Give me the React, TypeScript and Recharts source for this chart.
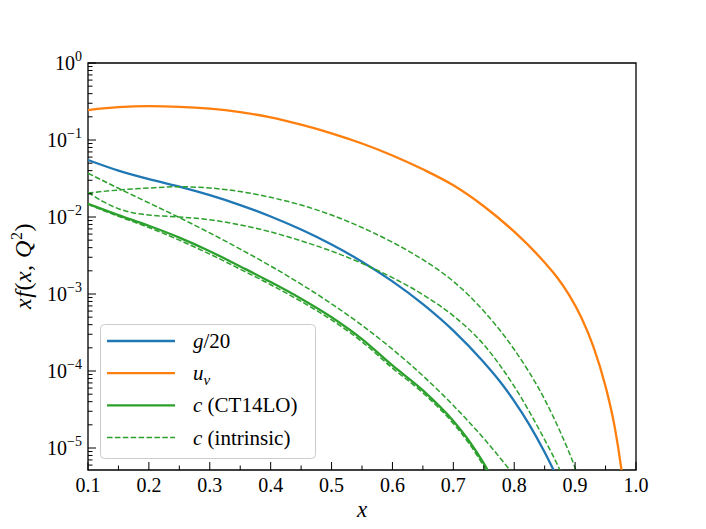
import React from 'react'
import { LineChart, Line, XAxis, YAxis, ReferenceArea } from 'recharts'

// gluon / 20
const gluonOver20 = [
  { x: 0.1, y: 0.055 }, { x: 0.15, y: 0.040 }, { x: 0.2, y: 0.031 }, { x: 0.25, y: 0.0248 },
  { x: 0.3, y: 0.0192 }, { x: 0.35, y: 0.0143 }, { x: 0.4, y: 0.01016 }, { x: 0.45, y: 0.00687 },
  { x: 0.5, y: 0.00439 }, { x: 0.55, y: 0.00263 }, { x: 0.6, y: 0.00146 }, { x: 0.65, y: 0.00074 },
  { x: 0.7, y: 0.000335 }, { x: 0.75, y: 0.00013 }, { x: 0.775, y: 0.000076 }, { x: 0.8, y: 0.0000407 },
  { x: 0.825, y: 0.0000200 }, { x: 0.85, y: 0.0000088 }, { x: 0.875, y: 0.0000035 },
]

// valence up
const upValence = [
  { x: 0.1, y: 0.245 }, { x: 0.15, y: 0.267 }, { x: 0.2, y: 0.275 }, { x: 0.25, y: 0.270 },
  { x: 0.3, y: 0.255 }, { x: 0.35, y: 0.230 }, { x: 0.4, y: 0.197 }, { x: 0.45, y: 0.158 },
  { x: 0.5, y: 0.122 }, { x: 0.55, y: 0.090 }, { x: 0.6, y: 0.063 }, { x: 0.65, y: 0.0416 },
  { x: 0.7, y: 0.0258 }, { x: 0.75, y: 0.0138 }, { x: 0.8, y: 0.00644 }, { x: 0.85, y: 0.00256 },
  { x: 0.87, y: 0.00166 }, { x: 0.89, y: 0.000975 }, { x: 0.91, y: 0.00050 }, { x: 0.93, y: 0.000208 },
  { x: 0.95, y: 0.000063 }, { x: 0.965, y: 0.0000188 }, { x: 0.976, y: 0.0000053 }, { x: 0.982, y: 0.0000022 },
]

// charm, CT14LO
const charmCT14 = [
  { x: 0.1, y: 0.0148 }, { x: 0.15, y: 0.0106 }, { x: 0.2, y: 0.0077 }, { x: 0.25, y: 0.0054 },
  { x: 0.3, y: 0.0036 }, { x: 0.35, y: 0.00228 }, { x: 0.4, y: 0.00143 }, { x: 0.45, y: 0.00087 },
  { x: 0.5, y: 0.00050 }, { x: 0.55, y: 0.00026 }, { x: 0.6, y: 0.000118 }, { x: 0.65, y: 0.000056 },
  { x: 0.7, y: 0.0000224 }, { x: 0.725, y: 0.0000126 }, { x: 0.75, y: 0.0000063 }, { x: 0.775, y: 0.0000028 },
]

// intrinsic charm models
const intrinsicSea = [
  { x: 0.1, y: 0.0146 }, { x: 0.15, y: 0.0102 }, { x: 0.2, y: 0.0073 }, { x: 0.25, y: 0.0050 },
  { x: 0.3, y: 0.0033 }, { x: 0.35, y: 0.0021 }, { x: 0.4, y: 0.00132 }, { x: 0.45, y: 0.00080 },
  { x: 0.5, y: 0.00046 }, { x: 0.55, y: 0.00024 }, { x: 0.6, y: 0.000109 }, { x: 0.65, y: 0.000052 },
  { x: 0.7, y: 0.0000208 }, { x: 0.725, y: 0.0000117 }, { x: 0.75, y: 0.0000058 }, { x: 0.775, y: 0.0000026 },
]
const intrinsicSteep = [
  { x: 0.1, y: 0.037 }, { x: 0.15, y: 0.0236 }, { x: 0.2, y: 0.01524 }, { x: 0.25, y: 0.00984 },
  { x: 0.3, y: 0.00621 }, { x: 0.35, y: 0.00383 }, { x: 0.4, y: 0.00231 }, { x: 0.45, y: 0.00134 },
  { x: 0.5, y: 0.000746 }, { x: 0.55, y: 0.000392 }, { x: 0.6, y: 0.000192 }, { x: 0.65, y: 0.0000867 },
  { x: 0.7, y: 0.0000357 }, { x: 0.75, y: 0.0000133 }, { x: 0.8, y: 0.0000044 },
]
const intrinsicPeaked = [
  { x: 0.1, y: 0.0205 }, { x: 0.15, y: 0.0224 }, { x: 0.2, y: 0.0238 }, { x: 0.25, y: 0.0247 },
  { x: 0.3, y: 0.0238 }, { x: 0.35, y: 0.0214 }, { x: 0.4, y: 0.0180 }, { x: 0.45, y: 0.0143 },
  { x: 0.5, y: 0.0106 }, { x: 0.55, y: 0.0073 }, { x: 0.6, y: 0.0047 }, { x: 0.65, y: 0.00279 },
  { x: 0.7, y: 0.00146 }, { x: 0.75, y: 0.00060 }, { x: 0.8, y: 0.00019 }, { x: 0.85, y: 0.0000427 },
  { x: 0.875, y: 0.0000166 }, { x: 0.9, y: 0.0000055 }, { x: 0.92, y: 0.00000178 },
]
const intrinsicFlat = [
  { x: 0.1, y: 0.0209 }, { x: 0.125, y: 0.0158 }, { x: 0.15, y: 0.0128 }, { x: 0.175, y: 0.0113 },
  { x: 0.2, y: 0.0106 }, { x: 0.25, y: 0.0100 }, { x: 0.3, y: 0.0092 }, { x: 0.35, y: 0.0079 },
  { x: 0.4, y: 0.0064 }, { x: 0.45, y: 0.0049 }, { x: 0.5, y: 0.0036 }, { x: 0.55, y: 0.0025 },
  { x: 0.6, y: 0.00163 }, { x: 0.65, y: 0.00098 }, { x: 0.7, y: 0.00052 }, { x: 0.75, y: 0.00022 },
  { x: 0.8, y: 0.000063 }, { x: 0.85, y: 0.0000128 }, { x: 0.87, y: 0.0000063 }, { x: 0.89, y: 0.0000028 },
]

// ticks
const xMajorTicks = [0.1, 0.2, 0.3, 0.4, 0.5, 0.6, 0.7, 0.8, 0.9, 1.0]
const xMinorTicks = [0.15, 0.25, 0.35, 0.45, 0.55, 0.65, 0.75, 0.85, 0.95]
const yMajorTicks = [1e-5, 1e-4, 1e-3, 1e-2, 1e-1, 1]
const yMajorExponents = ['−5', '−4', '−3', '−2', '−1', '0']
const yMinorMultipliers = [2, 3, 4, 5, 6, 7, 8, 9]

const Y_MIN = 5.18e-6
const Y_MAX = 1

const BLUE = '#1f77b4'
const ORANGE = '#ff7f0e'
const GREEN = '#2ca02c'
const FONT = '"Liberation Serif", "DejaVu Serif", serif'
const DASH = '5.5 2.4'

const yMinorTicks: number[] = []
for (let e = -6; e <= -1; e++) {
  yMinorMultipliers.forEach(m => {
    const v = m * Math.pow(10, e)
    if (v > Y_MIN && v < Y_MAX) yMinorTicks.push(v)
  })
}

const near = (a: number, b: number) => Math.abs(a / b - 1) < 1e-6

const XTick = (props: any) => {
  const { x, y, payload } = props
  const idx = xMajorTicks.findIndex(t => near(payload.value, t))
  const major = idx >= 0
  return (
    <g>
      <line x1={x} x2={x} y1={y} y2={y - (major ? 8 : 4.5)} stroke="#000" strokeWidth={1} />
      {major && (
        <text x={x} y={y + 22} textAnchor="middle" fontSize={20} fontFamily={FONT} fill="#000">
          {xMajorTicks[idx].toFixed(1)}
        </text>
      )}
    </g>
  )
}

const YTick = (props: any) => {
  const { x, y, payload } = props
  const idx = yMajorTicks.findIndex(t => near(payload.value, t))
  const major = idx >= 0
  return (
    <g>
      <line x1={x} x2={x + (major ? 8 : 4.5)} y1={y} y2={y} stroke="#000" strokeWidth={1} />
      {major && (
        <text x={x - 6} y={y + 7} textAnchor="end" fontSize={20} fontFamily={FONT} fill="#000">
          <tspan>10</tspan>
          <tspan dy={-9} fontSize={14}>{yMajorExponents[idx]}</tspan>
        </text>
      )}
    </g>
  )
}

const legendItems = [
  { key: 'g', color: BLUE, dashed: false, label: <><tspan fontStyle="italic">g</tspan>/20</> },
  { key: 'uv', color: ORANGE, dashed: false, label: <><tspan fontStyle="italic">u</tspan><tspan fontStyle="italic" fontSize={15} dy={5}>v</tspan></> },
  { key: 'c', color: GREEN, dashed: false, label: <><tspan fontStyle="italic">c</tspan> (CT14LO)</> },
  { key: 'ci', color: GREEN, dashed: true, label: <><tspan fontStyle="italic">c</tspan> (intrinsic)</> },
]

export default function App() {
  return (
    <div style={{ position: 'absolute', left: 0, top: 0, width: 706, height: 529, background: '#fff' }}>
      <LineChart width={706} height={529} margin={{ top: 63, right: 70, left: 0, bottom: 0 }}>
        <XAxis
          dataKey="x"
          type="number"
          domain={[0.1, 1]}
          ticks={[...xMajorTicks, ...xMinorTicks]}
          interval={0}
          height={59}
          tickSize={0}
          tickMargin={0}
          tickLine={false}
          axisLine={false}
          tick={<XTick />}
        />
        <YAxis
          type="number"
          scale="log"
          domain={[Y_MIN, Y_MAX]}
          allowDataOverflow
          ticks={[...yMajorTicks, ...yMinorTicks]}
          interval={0}
          width={88}
          tickSize={0}
          tickMargin={0}
          tickLine={false}
          axisLine={false}
          tick={<YTick />}
        />
        <Line data={gluonOver20} dataKey="y" type="monotone" stroke={BLUE} strokeWidth={2.3} dot={false} isAnimationActive={false} />
        <Line data={upValence} dataKey="y" type="monotone" stroke={ORANGE} strokeWidth={2.3} dot={false} isAnimationActive={false} />
        <Line data={charmCT14} dataKey="y" type="monotone" stroke={GREEN} strokeWidth={2.3} dot={false} isAnimationActive={false} />
        <Line data={intrinsicSea} dataKey="y" type="monotone" stroke={GREEN} strokeWidth={1.5} strokeDasharray={DASH} dot={false} isAnimationActive={false} />
        <Line data={intrinsicSteep} dataKey="y" type="monotone" stroke={GREEN} strokeWidth={1.5} strokeDasharray={DASH} dot={false} isAnimationActive={false} />
        <Line data={intrinsicPeaked} dataKey="y" type="monotone" stroke={GREEN} strokeWidth={1.5} strokeDasharray={DASH} dot={false} isAnimationActive={false} />
        <Line data={intrinsicFlat} dataKey="y" type="monotone" stroke={GREEN} strokeWidth={1.5} strokeDasharray={DASH} dot={false} isAnimationActive={false} />
        <ReferenceArea x1={0.1} x2={1} y1={Y_MIN} y2={Y_MAX} fill="none" stroke="#000" strokeWidth={1.3} ifOverflow="visible" />
      </LineChart>
      <svg width={706} height={529} style={{ position: 'absolute', left: 0, top: 0, pointerEvents: 'none' }}>
        <text x={362} y={517} textAnchor="middle" fontSize={23} fontStyle="italic" fontFamily={FONT}>x</text>
        <text x={31} y={266} transform="rotate(-90 31 266)" textAnchor="middle" fontSize={24} letterSpacing={0.5} fontFamily={FONT}>
          <tspan fontStyle="italic">xf</tspan>(<tspan fontStyle="italic">x</tspan>, <tspan fontStyle="italic">Q</tspan>
          <tspan dy={-9} fontSize={16}>2</tspan><tspan dy={9}>)</tspan>
        </text>
        <g transform="translate(100 324)">
          <rect x={0.5} y={0.5} width={215} height={134} rx={4} fill="rgba(255,255,255,0.8)" stroke="#cccccc" strokeWidth={1} />
          {legendItems.map((item, i) => {
            const cy = 17 + i * 32.2
            return (
              <g key={item.key}>
                <line x1={7} x2={75} y1={cy} y2={cy} stroke={item.color} strokeWidth={item.dashed ? 1.5 : 2.3} strokeDasharray={item.dashed ? DASH : undefined} />
                <text x={93} y={cy + 7} fontSize={21} fontFamily={FONT} fill="#000">{item.label}</text>
              </g>
            )
          })}
        </g>
      </svg>
    </div>
  )
}
